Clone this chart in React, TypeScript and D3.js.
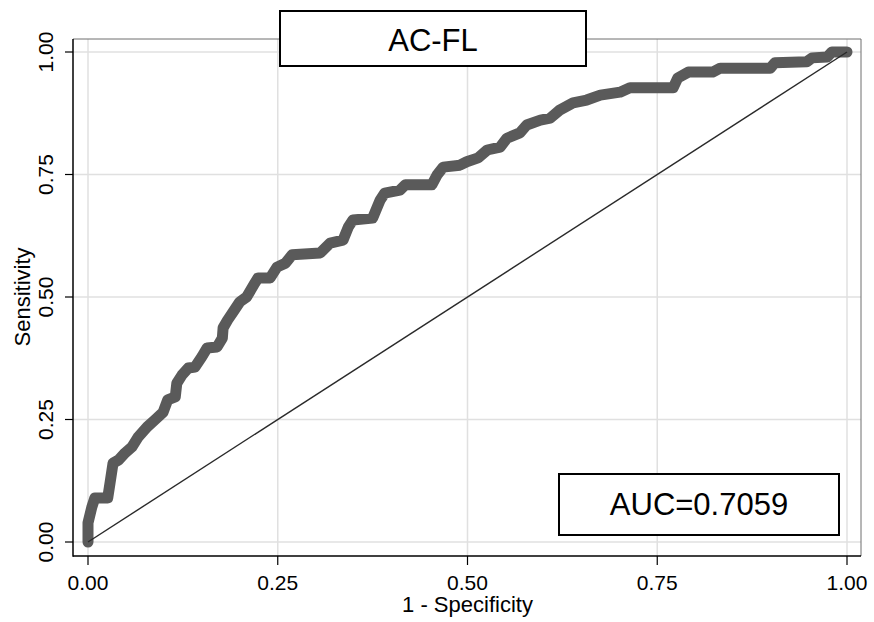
import React from "react";
import * as d3 from "d3";

const fpr: number[] = [0, 0.0, 0.005, 0.009, 0.026, 0.029, 0.033, 0.04, 0.049, 0.058, 0.066, 0.078, 0.088, 0.099, 0.105, 0.115, 0.117, 0.124, 0.132, 0.141, 0.15, 0.157, 0.17, 0.177, 0.178, 0.184, 0.191, 0.2, 0.209, 0.22, 0.224, 0.24, 0.249, 0.26, 0.269, 0.306, 0.319, 0.336, 0.343, 0.349, 0.375, 0.385, 0.391, 0.411, 0.418, 0.453, 0.46, 0.468, 0.49, 0.499, 0.514, 0.526, 0.543, 0.552, 0.569, 0.578, 0.596, 0.609, 0.622, 0.639, 0.657, 0.675, 0.701, 0.714, 0.771, 0.777, 0.791, 0.823, 0.833, 0.899, 0.905, 0.947, 0.954, 0.974, 0.98, 1];
const tpr: number[] = [0, 0.039, 0.071, 0.09, 0.09, 0.12, 0.161, 0.167, 0.182, 0.194, 0.214, 0.235, 0.249, 0.265, 0.29, 0.296, 0.324, 0.341, 0.355, 0.357, 0.378, 0.396, 0.398, 0.416, 0.437, 0.453, 0.469, 0.49, 0.5, 0.529, 0.539, 0.539, 0.561, 0.569, 0.586, 0.59, 0.61, 0.616, 0.643, 0.657, 0.661, 0.698, 0.712, 0.718, 0.729, 0.729, 0.749, 0.765, 0.769, 0.776, 0.784, 0.8, 0.806, 0.824, 0.835, 0.851, 0.861, 0.865, 0.882, 0.896, 0.902, 0.912, 0.918, 0.927, 0.927, 0.947, 0.959, 0.959, 0.967, 0.967, 0.978, 0.98, 0.988, 0.99, 1, 1];
const ticks: number[] = [0, 0.25, 0.5, 0.75, 1];
const tickLabels: string[] = ["0.00", "0.25", "0.50", "0.75", "1.00"];
const titleText = "AC-FL";
const aucText = "AUC=0.7059";
const xTitle = "1 - Specificity";
const yTitle = "Sensitivity";

const W = 874, H = 622;
const FONT = "'Liberation Sans', Arial, sans-serif";

export default function App() {
  const x = d3.scaleLinear().domain([0, 1]).range([88, 847]);
  const y = d3.scaleLinear().domain([0, 1]).range([542, 52]);
  const pts = fpr.map((f, i) => [f, tpr[i]] as [number, number]);
  const line = d3.line<[number, number]>().x(d => x(d[0])).y(d => y(d[1]));
  const frame = { l: 73, r: 861, t: 39, b: 556 };

  return (
    <svg width={W} height={H} style={{ position: "absolute", left: 0, top: 0, background: "#fff" }} fontFamily={FONT}>
      <rect x={0} y={0} width={W} height={H} fill="#fff" />
      {/* grid */}
      {ticks.map((t, i) => (
        <g key={"g" + i}>
          <line x1={x(t)} x2={x(t)} y1={frame.t} y2={frame.b} stroke="#e0e0e0" strokeWidth={1.5} />
          <line x1={frame.l} x2={frame.r} y1={y(t)} y2={y(t)} stroke="#e0e0e0" strokeWidth={1.5} />
        </g>
      ))}
      {/* top/right frame */}
      <line x1={frame.l} x2={frame.r} y1={frame.t} y2={frame.t} stroke="#6e6e6e" strokeWidth={1} />
      <line x1={frame.r} x2={frame.r} y1={frame.t} y2={frame.b} stroke="#6e6e6e" strokeWidth={1} />
      {/* curve */}
      <path d={line(pts) || ""} fill="none" stroke="#5a5a5a" strokeWidth={11} strokeLinejoin="round" strokeLinecap="round" />
      {/* diagonal */}
      <path d={line([[0, 0], [1, 1]]) || ""} fill="none" stroke="#2a2a2a" strokeWidth={1.4} />
      {/* axes */}
      <line x1={frame.l} x2={frame.l} y1={frame.t} y2={frame.b + 0.75} stroke="#000" strokeWidth={1.5} />
      <line x1={frame.l} x2={frame.r} y1={frame.b} y2={frame.b} stroke="#000" strokeWidth={1.5} />
      {ticks.map((t, i) => (
        <g key={"t" + i}>
          <line x1={frame.l} x2={65} y1={y(t)} y2={y(t)} stroke="#000" strokeWidth={1.2} />
          <text transform={`translate(53,${y(t)}) rotate(-90)`} textAnchor="middle" fontSize={21} fill="#000">{tickLabels[i]}</text>
          <line x1={x(t)} x2={x(t)} y1={frame.b} y2={565} stroke="#000" strokeWidth={1.2} />
          <text x={x(t)} y={590} textAnchor="middle" fontSize={21} fill="#000">{tickLabels[i]}</text>
        </g>
      ))}
      <text x={(x(0) + x(1)) / 2} y={612} textAnchor="middle" fontSize={22} fill="#000">{xTitle}</text>
      <text transform={`translate(30,${(y(0) + y(1)) / 2}) rotate(-90)`} textAnchor="middle" fontSize={22} fill="#000">{yTitle}</text>
      {/* title box */}
      <rect x={280} y={11} width={306} height={55} fill="#fff" stroke="#000" strokeWidth={2} />
      <text x={433} y={51} textAnchor="middle" fontSize={31} fill="#000">{titleText}</text>
      {/* AUC box */}
      <rect x={559} y={474} width={280} height={61} fill="#fff" stroke="#000" strokeWidth={2} />
      <text x={699} y={515} textAnchor="middle" fontSize={31} fill="#000">{aucText}</text>
    </svg>
  );
}
